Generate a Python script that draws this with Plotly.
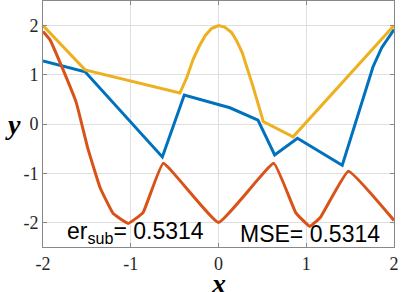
import plotly.graph_objects as go

blue_x = [-2.0, -1.52, -0.64, -0.39, 0.13, 0.45, 0.64, 0.90, 1.41, 1.76, 1.86, 2.0]
blue_y = [1.28, 1.06, -0.67, 0.59, 0.33, 0.08, -0.63, -0.29, -0.84, 1.16, 1.55, 1.92]

yel_x = [-2.0, -1.52, -0.44, -0.36, -0.29, -0.22, -0.15, -0.08, 0.0, 0.07, 0.15, 0.21, 0.27, 0.33, 0.39, 0.45, 0.51, 0.85, 2.0]
yel_y = [2.0, 1.1, 0.63, 0.95, 1.31, 1.58, 1.80, 1.94, 2.0, 1.97, 1.86, 1.68, 1.45, 1.13, 0.78, 0.42, 0.05, -0.26, 2.0]

red_x = [-2.0, -1.92, -1.78, -1.62, -1.49, -1.35, -1.20, -1.03, -0.86, -0.63, 0.0, 0.63, 0.88, 1.04, 1.16, 1.48, 2.0]
red_y = [1.88, 1.71, 1.14, 0.43, -0.49, -1.29, -1.82, -2.02, -1.80, -0.80, -2.0, -0.80, -1.80, -2.08, -1.90, -0.96, -1.96]

x_ticks = [-2, -1, 0, 1, 2]
y_ticks = [-2, -1, 0, 1, 2]
err_text = "er<sub>sub</sub>= 0.5314"
mse_text = "MSE= 0.5314"

fig = go.Figure()
fig.add_trace(go.Scatter(x=blue_x, y=blue_y, mode="lines", line=dict(color="#0072BD", width=3)))
fig.add_trace(go.Scatter(x=red_x, y=red_y, mode="lines", line=dict(color="#D95319", width=3, shape="spline", smoothing=0.3)))
fig.add_trace(go.Scatter(x=yel_x, y=yel_y, mode="lines", line=dict(color="#EDB120", width=3)))

axis_common = dict(showgrid=True, gridcolor="#DFDFDF", gridwidth=1, zeroline=False,
                   showline=True, linecolor="#888888", linewidth=1, mirror="ticks",
                   ticks="inside", ticklen=4, tickcolor="#888888", automargin=False,
                   tickfont=dict(family="Liberation Serif", size=18, color="#262626"))

fig.update_xaxes(range=[-2, 2], tickvals=x_ticks, ticktext=[str(v) for v in x_ticks], **axis_common)
fig.update_yaxes(range=[-2.5, 2.5], tickvals=y_ticks, ticktext=[str(v) for v in y_ticks], **axis_common)

fig.add_annotation(x=-0.95, y=0, xref="x", yref="paper", text=err_text, showarrow=False,
                   yanchor="bottom", xanchor="center", yshift=-2,
                   font=dict(family="Liberation Sans", size=23, color="black"))
fig.add_annotation(x=1.04, y=0, xref="x", yref="paper", text=mse_text, showarrow=False,
                   yanchor="bottom", xanchor="center", yshift=-2,
                   font=dict(family="Liberation Sans", size=23, color="black"))
fig.add_annotation(x=-0.085, y=0.5, xref="paper", yref="paper", text="<b><i>y</i></b>", showarrow=False,
                   xanchor="center", yanchor="middle",
                   font=dict(family="Liberation Serif", size=28, color="black"))
fig.add_annotation(x=0.5, y=-0.15, xref="paper", yref="paper", text="<b><i>x</i></b>", showarrow=False,
                   xanchor="center", yanchor="middle",
                   font=dict(family="Liberation Serif", size=28, color="black"))

fig.update_layout(width=407, height=292, margin=dict(l=43, r=13, t=1, b=45),
                  plot_bgcolor="white", paper_bgcolor="white", showlegend=False)

fig.write_html("out.html", config={"displayModeBar": False},
               post_script="document.body.style.margin='0';document.body.style.overflow='hidden';")
